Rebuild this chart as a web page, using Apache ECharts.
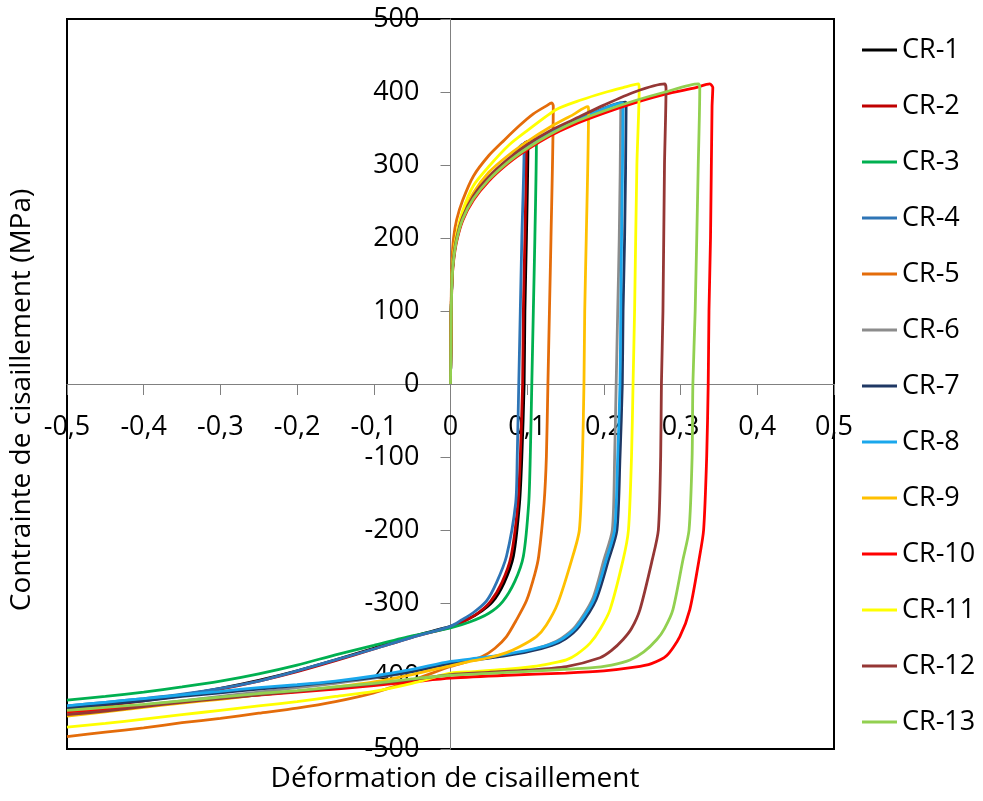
<!DOCTYPE html>
<html>
<head>
<meta charset="utf-8">
<script src="https://cdn.jsdelivr.net/npm/echarts@6/dist/echarts.min.js"></script>
<style>
html,body{margin:0;padding:0;background:#fff;}
#chart{width:983px;height:801px;}
</style>
</head>
<body>
<div id="chart"></div>
<script>
const seriesNames = ['CR-1','CR-2','CR-3','CR-4','CR-5','CR-6','CR-7','CR-8','CR-9','CR-10','CR-11','CR-12','CR-13'];
const seriesColors = ['#000000','#c00000','#00b050','#2e75b6','#e46c0a','#8c8c8c','#1f3864','#1aa7ec','#ffc000','#ff0000','#ffff00','#953735','#92d050'];
const xTickLabels = ['-0,5','-0,4','-0,3','-0,2','-0,1','0','0,1','0,2','0,3','0,4','0,5'];
const yTickLabels = ['-500','-400','-300','-200','-100','0','100','200','300','400','500'];
const xAxisTitle = 'Déformation de cisaillement';
const yAxisTitle = 'Contrainte de cisaillement (MPa)';

const cr1 = [[0,0],[0.001,105],[0.002,148],[0.004,175],[0.008,200],[0.016,228],[0.03,256],[0.05,282],[0.075,306],[0.09,322],[0.1,332],
  [0.101,330],[0.099,200],[0.097,100],[0.096,0],[0.093,-100],[0.09,-163],[0.082,-236],[0.07,-272],[0.055,-298],[0.035,-315],[0.015,-326],[0,-332],
  [-0.05,-346],[-0.1,-362],[-0.15,-378],[-0.2,-393],[-0.25,-406],[-0.3,-417],[-0.35,-426],[-0.4,-433],[-0.45,-439],[-0.5,-443]];
const cr2 = [[0,0],[0.001,110],[0.002,152],[0.004,178],[0.008,202],[0.016,229],[0.03,256],[0.05,282],[0.075,306],[0.09,321],[0.098,331],
  [0.099,329],[0.097,200],[0.095,100],[0.094,0],[0.091,-100],[0.088,-163],[0.079,-236],[0.067,-272],[0.052,-298],[0.033,-316],[0.014,-327],[0,-333],
  [-0.05,-347],[-0.1,-363],[-0.15,-379],[-0.2,-394],[-0.25,-407],[-0.3,-418],[-0.35,-427],[-0.4,-434],[-0.45,-440],[-0.5,-444]];
const cr3 = [[0,0],[0.001,100],[0.002,145],[0.004,172],[0.008,198],[0.016,226],[0.03,254],[0.05,280],[0.075,304],[0.1,326],[0.111,335],
  [0.112,332],[0.11,200],[0.108,100],[0.106,0],[0.104,-100],[0.102,-163],[0.095,-236],[0.084,-270],[0.068,-298],[0.05,-314],[0.025,-326],[0,-334],
  [-0.05,-345],[-0.1,-358],[-0.15,-371],[-0.2,-385],[-0.25,-397],[-0.3,-407],[-0.35,-415],[-0.4,-422],[-0.45,-428],[-0.5,-433]];
const cr4 = [[0,0],[0.001,100],[0.002,146],[0.004,172],[0.008,198],[0.016,226],[0.03,254],[0.05,280],[0.075,304],[0.095,329],
  [0.096,327],[0.093,200],[0.091,100],[0.089,0],[0.087,-100],[0.085,-163],[0.073,-236],[0.06,-272],[0.047,-297],[0.03,-313],[0.015,-323],[0,-332],
  [-0.05,-347],[-0.1,-363],[-0.15,-378],[-0.2,-393],[-0.25,-407],[-0.3,-417],[-0.35,-425],[-0.4,-431],[-0.45,-436],[-0.5,-441]];
const cr5 = [[0,0],[0.001,120],[0.002,170],[0.004,200],[0.008,225],[0.016,252],[0.03,285],[0.05,313],[0.07,334],[0.09,354],[0.108,370],[0.125,381],[0.132,385],
  [0.134,381],[0.131,200],[0.129,100],[0.127,0],[0.125,-100],[0.122,-163],[0.115,-236],[0.11,-260],[0.099,-297],[0.085,-325],[0.073,-346],[0.058,-362],[0.042,-373],[0.02,-381],[0,-387],
  [-0.05,-406],[-0.1,-423],[-0.15,-435],[-0.2,-444],[-0.25,-451],[-0.3,-458],[-0.35,-464],[-0.4,-471],[-0.45,-477],[-0.5,-483]];
const cr6 = [[0,0],[0.001,100],[0.002,148],[0.004,174],[0.008,200],[0.016,228],[0.03,256],[0.05,282],[0.075,305],[0.1,325],[0.13,344],[0.16,359],[0.19,373],[0.221,385],
  [0.222,382],[0.22,200],[0.218,100],[0.216,0],[0.214,-100],[0.211,-200],[0.2,-241],[0.185,-295],[0.163,-332],[0.145,-348],[0.128,-357],[0.1,-366],[0.073,-371],[0.04,-376],[0,-382],
  [-0.05,-394],[-0.1,-403],[-0.15,-410],[-0.2,-416],[-0.25,-422],[-0.3,-428],[-0.35,-434],[-0.4,-440],[-0.45,-446],[-0.5,-451]];
const cr7 = [[0,0],[0.001,100],[0.002,148],[0.004,174],[0.008,200],[0.016,228],[0.03,256],[0.05,282],[0.075,305],[0.1,325],[0.13,344],[0.16,359],[0.19,373],[0.228,386],
  [0.229,383],[0.227,200],[0.225,100],[0.224,0],[0.221,-100],[0.217,-200],[0.206,-241],[0.19,-295],[0.168,-332],[0.15,-349],[0.132,-358],[0.1,-367],[0.073,-372],[0.04,-377],[0,-383],
  [-0.05,-394],[-0.1,-402],[-0.15,-408],[-0.2,-413],[-0.25,-418],[-0.3,-423],[-0.35,-428],[-0.4,-434],[-0.45,-439],[-0.5,-444]];
const cr8 = [[0,0],[0.001,100],[0.002,148],[0.004,174],[0.008,200],[0.016,228],[0.03,256],[0.05,282],[0.075,305],[0.1,325],[0.13,344],[0.16,359],[0.19,373],[0.224,385],
  [0.225,382],[0.223,200],[0.222,100],[0.221,0],[0.218,-100],[0.214,-200],[0.203,-241],[0.187,-295],[0.165,-332],[0.146,-349],[0.129,-357],[0.1,-365],[0.073,-370],[0.04,-375],[0,-380],
  [-0.05,-391],[-0.1,-400],[-0.15,-407],[-0.2,-412],[-0.25,-416],[-0.3,-421],[-0.35,-426],[-0.4,-431],[-0.45,-436],[-0.5,-441]];
const cr9 = [[0,0],[0.001,105],[0.002,150],[0.004,178],[0.008,204],[0.016,232],[0.03,262],[0.05,290],[0.075,313],[0.1,332],[0.13,352],[0.16,369],[0.179,380],
  [0.18,376],[0.177,200],[0.175,100],[0.174,0],[0.172,-100],[0.168,-200],[0.158,-241],[0.14,-300],[0.125,-330],[0.112,-346],[0.09,-360],[0.073,-368],[0.05,-375],[0.03,-379],[0,-386],
  [-0.05,-398],[-0.1,-408],[-0.15,-415],[-0.2,-421],[-0.25,-426],[-0.3,-432],[-0.35,-437],[-0.4,-443],[-0.45,-449],[-0.5,-455]];
const cr10 = [[0,0],[0.001,95],[0.002,140],[0.004,168],[0.008,195],[0.016,224],[0.03,252],[0.05,278],[0.075,302],[0.1,321],[0.13,340],[0.16,355],[0.2,371],[0.24,385],[0.28,397],[0.32,406],[0.338,411],
  [0.342,406],[0.341,380],[0.339,200],[0.337,100],[0.336,0],[0.334,-100],[0.33,-200],[0.324,-241],[0.312,-309],[0.299,-346],[0.282,-372],[0.262,-383],[0.24,-388],[0.2,-393],[0.15,-396],[0.073,-399],[0,-403],
  [-0.05,-408],[-0.1,-413],[-0.15,-418],[-0.2,-422],[-0.25,-426],[-0.3,-430],[-0.35,-435],[-0.4,-440],[-0.45,-445],[-0.5,-449]];
const cr11 = [[0,0],[0.001,105],[0.002,150],[0.004,178],[0.008,205],[0.016,238],[0.03,272],[0.05,298],[0.077,328],[0.1,347],[0.138,376],[0.17,389],[0.2,399],[0.225,406],[0.245,411],
  [0.246,405],[0.243,300],[0.24,100],[0.238,0],[0.236,-100],[0.232,-200],[0.225,-241],[0.208,-309],[0.195,-336],[0.182,-355],[0.165,-370],[0.151,-378],[0.13,-383],[0.108,-387],[0.07,-391],[0.03,-394],[0,-396],
  [-0.05,-410],[-0.1,-421],[-0.15,-428],[-0.2,-435],[-0.25,-441],[-0.3,-447],[-0.35,-453],[-0.4,-459],[-0.45,-465],[-0.5,-470]];
const cr12 = [[0,0],[0.001,100],[0.002,147],[0.004,174],[0.008,200],[0.016,229],[0.03,258],[0.05,284],[0.075,308],[0.1,328],[0.13,347],[0.16,362],[0.2,382],[0.24,400],[0.279,411],
  [0.281,405],[0.279,300],[0.277,100],[0.275,0],[0.274,-100],[0.271,-200],[0.263,-241],[0.247,-309],[0.236,-335],[0.225,-350],[0.21,-365],[0.195,-375],[0.151,-387],[0.1,-392],[0.05,-395],[0,-398],
  [-0.05,-405],[-0.1,-411],[-0.15,-416],[-0.2,-421],[-0.25,-426],[-0.3,-431],[-0.35,-436],[-0.4,-442],[-0.45,-448],[-0.5,-453]];
const cr13 = [[0,0],[0.001,98],[0.002,143],[0.004,170],[0.008,197],[0.016,226],[0.03,254],[0.05,280],[0.075,304],[0.1,323],[0.13,342],[0.16,358],[0.2,374],[0.24,388],[0.28,400],[0.323,411],
  [0.325,405],[0.323,300],[0.319,100],[0.316,0],[0.315,-100],[0.311,-200],[0.303,-241],[0.29,-309],[0.279,-335],[0.269,-350],[0.252,-367],[0.234,-378],[0.21,-385],[0.182,-389],[0.095,-394],[0,-399],
  [-0.05,-404],[-0.1,-410],[-0.15,-415],[-0.2,-420],[-0.25,-424],[-0.3,-429],[-0.35,-434],[-0.4,-439],[-0.45,-443],[-0.5,-447]];

const seriesData = [cr1,cr2,cr3,cr4,cr5,cr6,cr7,cr8,cr9,cr10,cr11,cr12,cr13];
const FONT = '"Open Sans", "Liberation Sans", sans-serif';
const FS = 27;
const FT = 28;

const GRID = {left: 67, right: 149, top: 19, bottom: 52};
const plotW = 983 - GRID.left - GRID.right;
const plotH = 801 - GRID.top - GRID.bottom;

const chart = echarts.init(document.getElementById('chart'), null, {renderer:'canvas'});
chart.setOption({
  backgroundColor: '#ffffff',
  animation: false,
  grid: Object.assign({}, GRID, {show: true, borderColor: '#000000', borderWidth: 2, backgroundColor: 'transparent', containLabel: false, outerBoundsMode: 'none'}),
  xAxis: {
    type: 'value', min: -0.5, max: 0.5, interval: 0.1, position: 'bottom', offset: -plotH / 2,
    axisLine: {show: true, onZero: false, lineStyle: {color: '#808080', width: 1}},
    axisTick: {show: true, length: 11, lineStyle: {color: '#808080', width: 1}},
    splitLine: {show: false},
    axisLabel: {
      margin: 30, color: '#000', fontFamily: FONT, fontSize: FS, showMinLabel: true, showMaxLabel: true, hideOverlap: false,
      formatter: v => xTickLabels[Math.round((v + 0.5) * 10)]
    }
  },
  yAxis: {
    type: 'value', min: -500, max: 500, interval: 100, position: 'left', offset: -plotW / 2,
    axisLine: {show: true, onZero: false, lineStyle: {color: '#808080', width: 1}},
    axisTick: {show: true, length: 10, lineStyle: {color: '#808080', width: 1}},
    splitLine: {show: false},
    axisLabel: {
      margin: 31, color: '#000', fontFamily: FONT, fontSize: FS, showMinLabel: true, showMaxLabel: true, hideOverlap: false,
      formatter: v => yTickLabels[Math.round((v + 500) / 100)]
    }
  },
  legend: {
    orient: 'vertical', left: 857, top: 30, itemGap: 26, itemWidth: 35, itemHeight: 3, icon: 'rect',
    textStyle: {fontFamily: FONT, fontSize: FS, color: '#000', lineHeight: 30},
    data: seriesNames
  },
  graphic: [
    {type: 'text', x: 455, y: 779, style: {text: xAxisTitle, font: FT + 'px ' + FONT, fill: '#000', textAlign: 'center', textVerticalAlign: 'middle'}},
    {type: 'text', x: 22, y: 400, rotation: Math.PI / 2, style: {text: yAxisTitle, font: FT + 'px ' + FONT, fill: '#000', textAlign: 'center', textVerticalAlign: 'middle'}}
  ],
  series: seriesData.map((d, i) => ({
    name: seriesNames[i], type: 'line', data: d, showSymbol: false, symbol: 'none', smooth: 0.25,
    lineStyle: {width: 2.8, color: seriesColors[i]}, itemStyle: {color: seriesColors[i]}, z: 2 + i
  }))
});
</script>
</body>
</html>
